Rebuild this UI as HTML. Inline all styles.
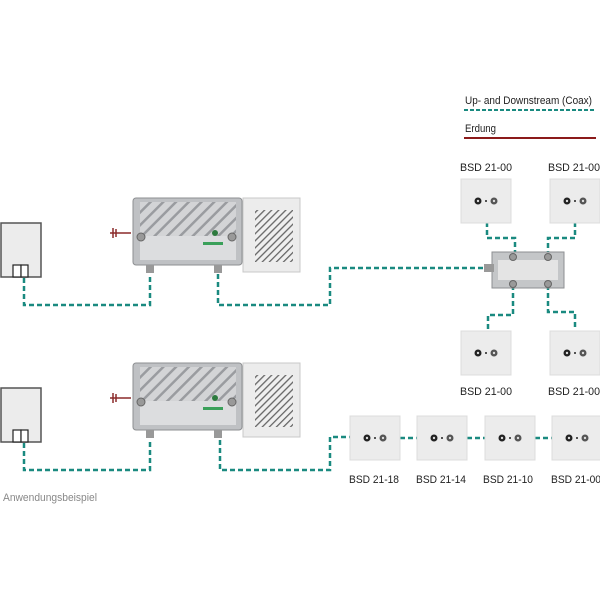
<!DOCTYPE html>
<html><head><style>
html,body{margin:0;padding:0;background:#fff;}
svg{display:block;}
text{font-family:"Liberation Sans",sans-serif;}
</style></head><body>
<svg width="600" height="600" viewBox="0 0 600 600" xmlns="http://www.w3.org/2000/svg">
<defs>
<pattern id="hatch" width="9" height="9" patternUnits="userSpaceOnUse" patternTransform="rotate(45)">
<rect width="9" height="9" fill="#d3d4d6"/><rect width="2.5" height="9" fill="#9a9ca0"/>
</pattern>
<pattern id="hatch2" width="5" height="5" patternUnits="userSpaceOnUse" patternTransform="rotate(45)">
<rect width="5" height="5" fill="#efefef"/><rect width="1.3" height="5" fill="#666"/>
</pattern>
<g id="amp">
  <rect x="243" y="0" width="57" height="74" fill="#ececec" stroke="#c8c8c8"/>
  <rect x="255" y="12" width="38" height="52" fill="url(#hatch2)"/>
  <rect x="133" y="0" width="109" height="67" rx="3" fill="#bfc1c4" stroke="#8d8f92"/>
  <rect x="140" y="4" width="96" height="40" fill="url(#hatch)"/>
  <rect x="140" y="38" width="96" height="24" fill="#dcdddf"/>
  <circle cx="141" cy="39" r="4" fill="#999" stroke="#666"/>
  <circle cx="232" cy="39" r="4" fill="#999" stroke="#666"/>
  <circle cx="215" cy="35" r="3" fill="#2d7a3e"/>
  <rect x="203" y="44" width="20" height="3" fill="#3aa05a"/>
  <rect x="146" y="67" width="8" height="8" fill="#999"/>
  <rect x="214" y="67" width="8" height="8" fill="#999"/>
  <line x1="110" y1="35" x2="131" y2="35" stroke="#8b2a2a" stroke-width="1.5"/>
  <line x1="113" y1="30" x2="113" y2="40" stroke="#8b2a2a" stroke-width="1.5"/>
  <line x1="116" y1="31" x2="116" y2="39" stroke="#8b2a2a" stroke-width="1.5"/>
</g>
<g id="sock">
  <rect x="0" y="0" width="50" height="44" fill="#ececec" stroke="#dcdcdc"/>
  <circle cx="17" cy="22" r="3.5" fill="#222"/><circle cx="17" cy="22" r="1.2" fill="#ddd"/>
  <circle cx="25" cy="22" r="1" fill="#222"/>
  <circle cx="33" cy="22" r="3.5" fill="#555"/><circle cx="33" cy="22" r="1.2" fill="#ddd"/>
</g>
<g id="wall">
  <rect x="1" y="0" width="40" height="54" fill="#ececec" stroke="#555" stroke-width="1.5"/>
  <rect x="13" y="42" width="8" height="12" fill="#fff" stroke="#222" stroke-width="1.2"/>
  <rect x="21" y="42" width="7" height="12" fill="#fff" stroke="#222" stroke-width="1.2"/>
</g>
</defs>

<text x="465" y="104" font-size="11" fill="#222" textLength="127" lengthAdjust="spacingAndGlyphs">Up- and Downstream (Coax)</text>
<line x1="464" y1="110" x2="594" y2="110" stroke="#1a8a80" stroke-width="2" stroke-dasharray="4,2"/>
<text x="465" y="132" font-size="11" fill="#222" textLength="31" lengthAdjust="spacingAndGlyphs">Erdung</text>
<line x1="464" y1="138" x2="596" y2="138" stroke="#8b1a1a" stroke-width="2"/>

<g fill="none" stroke="#1a8a80" stroke-width="2.5" stroke-dasharray="5,3">
  <polyline points="24,278 24,305 150,305 150,274"/>
  <polyline points="218,274 218,305 330,305 330,268 492,268"/>
  <polyline points="487,222 487,238 515,238 515,256"/>
  <polyline points="575,222 575,238 548,238 548,256"/>
  <polyline points="513,285 513,315 488,315 488,330"/>
  <polyline points="548,285 548,312 575,312 575,330"/>
  <polyline points="24,443 24,470 150,470 150,440"/>
  <polyline points="220,440 220,470 330,470 330,437 350,437"/>
  <line x1="400" y1="438" x2="417" y2="438"/>
  <line x1="467" y1="438" x2="485" y2="438"/>
  <line x1="535" y1="438" x2="552" y2="438"/>
</g>

<use href="#wall" y="223"/>
<use href="#wall" y="388"/>
<use href="#amp" y="198"/>
<use href="#amp" y="363"/>

<rect x="492" y="252" width="72" height="36" fill="#c4c6c8" stroke="#8d8f92"/>
<rect x="498" y="260" width="60" height="20" fill="#e4e4e4"/>
<rect x="484" y="264" width="10" height="8" fill="#999"/>
<circle cx="513" cy="257" r="3.5" fill="#999" stroke="#666"/>
<circle cx="548" cy="257" r="3.5" fill="#999" stroke="#666"/>
<circle cx="513" cy="284" r="3.5" fill="#999" stroke="#666"/>
<circle cx="548" cy="284" r="3.5" fill="#999" stroke="#666"/>

<use href="#sock" x="461" y="179"/>
<use href="#sock" x="550" y="179"/>
<use href="#sock" x="461" y="331"/>
<use href="#sock" x="550" y="331"/>
<use href="#sock" x="350" y="416"/>
<use href="#sock" x="417" y="416"/>
<use href="#sock" x="485" y="416"/>
<use href="#sock" x="552" y="416"/>

<g font-size="11" fill="#222" text-anchor="middle">
<text x="486" y="171" textLength="52" lengthAdjust="spacingAndGlyphs">BSD 21-00</text>
<text x="574" y="171" textLength="52" lengthAdjust="spacingAndGlyphs">BSD 21-00</text>
<text x="486" y="395" textLength="52" lengthAdjust="spacingAndGlyphs">BSD 21-00</text>
<text x="574" y="395" textLength="52" lengthAdjust="spacingAndGlyphs">BSD 21-00</text>
<text x="374" y="483" textLength="50" lengthAdjust="spacingAndGlyphs">BSD 21-18</text>
<text x="441" y="483" textLength="50" lengthAdjust="spacingAndGlyphs">BSD 21-14</text>
<text x="508" y="483" textLength="50" lengthAdjust="spacingAndGlyphs">BSD 21-10</text>
<text x="576" y="483" textLength="50" lengthAdjust="spacingAndGlyphs">BSD 21-00</text>
</g>
<text x="3" y="501" font-size="11" fill="#888" textLength="94" lengthAdjust="spacingAndGlyphs">Anwendungsbeispiel</text>
</svg>
</body></html>
